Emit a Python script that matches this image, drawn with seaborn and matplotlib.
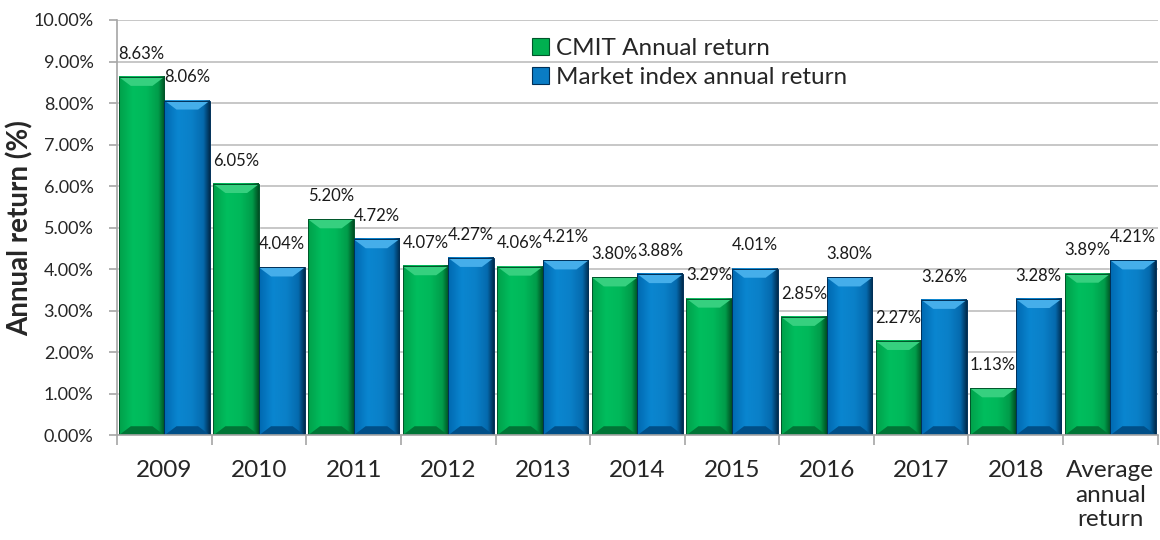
import numpy as np
import pandas as pd
import matplotlib
matplotlib.use("Agg")
from matplotlib import pyplot as plt
from matplotlib.colors import LinearSegmentedColormap
from matplotlib.patches import Polygon, Patch
from matplotlib.ticker import PercentFormatter, MultipleLocator
import seaborn as sns

categories = ["2009", "2010", "2011", "2012", "2013", "2014", "2015", "2016",
              "2017", "2018", "Average\nannual\nreturn"]
cmit_return = [8.63, 6.05, 5.20, 4.07, 4.06, 3.80, 3.29, 2.85, 2.27, 1.13, 3.89]
market_return = [8.06, 4.04, 4.72, 4.27, 4.21, 3.88, 4.01, 3.80, 3.26, 3.28, 4.21]
series = ["CMIT Annual return", "Market index annual return"]

df = pd.DataFrame({
    "category": categories * 2,
    "value": cmit_return + market_return,
    "series": [series[0]] * len(categories) + [series[1]] * len(categories),
})

green = "#00B050"
blue = "#0A7CC4"
# gradient stops (left -> right) and bevel colours per series
styles = {
    0: {"grad": ["#00A04A", "#00BE5E", "#00B85A", "#009C4A", "#004F22"],
        "top": "#36D07F", "bottom": "#007536", "edge": "#00552A"},
    1: {"grad": ["#0068B0", "#0A86D0", "#0A80C8", "#056AAE", "#002C4E"],
        "top": "#45AEEA", "bottom": "#004F88", "edge": "#003058"},
}

sns.set_theme(style="white")
plt.rcParams["font.family"] = ["Lato", "DejaVu Sans"]

fig, ax = plt.subplots(figsize=(11.6, 5.4), dpi=100)
fig.subplots_adjust(left=0.101, right=0.998, bottom=0.194, top=0.963)

sns.barplot(data=df, x="category", y="value", hue="series",
            palette=[green, blue], width=0.965, gap=0, saturation=1,
            legend=False, ax=ax)

ax.set_xlim(-0.5, len(categories) - 0.5)
ax.set_ylim(0, 10)

# bevel / gradient overlay on each bar
px_x = ax.transData.transform((1, 0))[0] - ax.transData.transform((0, 0))[0]
px_y = ax.transData.transform((0, 1))[1] - ax.transData.transform((0, 0))[1]
bx, by = 12 / px_x, 9 / px_y
for si, cont in enumerate(ax.containers):
    st = styles[si]
    cmap = LinearSegmentedColormap.from_list(
        "g%d" % si, list(zip([0, 0.3, 0.6, 0.86, 1.0], st["grad"])))
    for p in cont.patches:
        x0, w = p.get_x(), p.get_width()
        y0, h = p.get_y(), p.get_height()
        x1, y1 = x0 + w, y0 + h
        ax.imshow(np.linspace(0, 1, 128)[None, :], cmap=cmap, aspect="auto",
                  extent=[x0, x1, y0, y1], zorder=2.1, interpolation="bilinear")
        ax.add_patch(Polygon([(x0, y1), (x1, y1), (x1 - bx, y1 - by), (x0 + bx, y1 - by)],
                             closed=True, facecolor=st["top"], edgecolor="none", zorder=2.2))
        ax.add_patch(Polygon([(x0, y0), (x1, y0), (x1 - bx, y0 + by), (x0 + bx, y0 + by)],
                             closed=True, facecolor=st["bottom"], edgecolor="none", zorder=2.2))
        ax.add_patch(Polygon([(x0, y0), (x0, y1), (x1, y1), (x1, y0)], closed=True,
                             facecolor="none", edgecolor=st["edge"], linewidth=0.7, zorder=2.3))

ax.set_xlim(-0.5, len(categories) - 0.5)
ax.set_ylim(0, 10)

for cont in ax.containers:
    ax.bar_label(cont, labels=["%.2f%%" % v for v in cont.datavalues],
                 padding=11, fontsize=12, color="#1a1a1a", zorder=5)

# axes styling
ax.yaxis.set_major_locator(MultipleLocator(1))
ax.yaxis.set_major_formatter(PercentFormatter(xmax=100, decimals=2))
ax.grid(axis="y", color="#BDBDBD", linewidth=1.2)
ax.set_axisbelow(True)
for side in ["top", "right"]:
    ax.spines[side].set_visible(False)
for side in ["left", "bottom"]:
    ax.spines[side].set_color("#A6A6A6")
    ax.spines[side].set_linewidth(1.2)

ax.set_xticks(np.arange(-0.5, len(categories), 1))
ax.set_xticklabels([])
ax.set_xticks(range(len(categories)), minor=True)
ax.set_xticklabels(categories, minor=True, fontsize=17.5, linespacing=1.2,
                   va="top")
ax.tick_params(axis="x", which="major", length=7, width=1.2, color="#A6A6A6",
               direction="out", bottom=True)
ax.tick_params(axis="x", which="minor", length=0, pad=18)
ax.tick_params(axis="y", length=6, width=1.2, color="#A6A6A6", direction="out",
               left=True, labelsize=13, pad=11)
ax.set_xlabel("")
ax.set_ylabel("Annual return (%)", fontsize=20, fontweight="bold", labelpad=0)

handles = [Patch(facecolor=green, edgecolor=styles[0]["edge"], linewidth=0.8),
           Patch(facecolor=blue, edgecolor=styles[1]["edge"], linewidth=0.8)]
ax.legend(handles, series, loc="upper left", bbox_to_anchor=(532 / 1160, 1 - 38 / 540),
          bbox_transform=fig.transFigure, frameon=False, fontsize=17.5,
          handlelength=0.7, handleheight=0.7, handletextpad=0.3,
          labelspacing=0.32, borderpad=0, borderaxespad=0)

fig.savefig("out.png", dpi=100)
